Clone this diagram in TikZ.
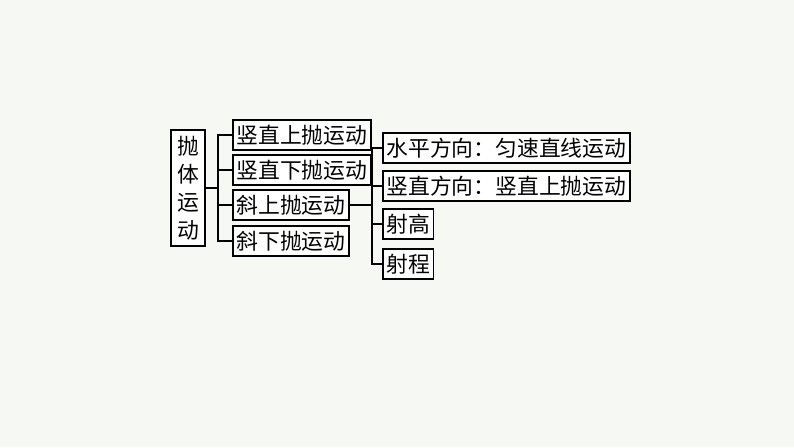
\documentclass[tikz,border=0pt]{standalone}
\usepackage{fontspec}
\setmainfont{Noto Sans CJK SC}
\definecolor{bgpage}{HTML}{F6F8F3}
\tikzset{
  kbox/.style={draw, line width=1.3pt, fill=white, inner xsep=2.5pt, inner ysep=0pt,
    minimum height=0.74cm, anchor=west, font=\fontsize{15.5}{18}\selectfont},
  kline/.style={line width=1.1pt}
}
\begin{document}
\begin{tikzpicture}[x=0.025cm,y=-0.025cm]
  \fill[bgpage] (0,0) rectangle (794,447);
  \useasboundingbox (0,0) rectangle (794,447);

  % root
  \node[draw, line width=1.3pt, fill=white, minimum width=0.85cm, minimum height=2.9cm,
    inner sep=1pt, align=center, font=\fontsize{15.5}{20}\selectfont] (root) at (188,188)
    {抛\\体\\运\\动};

  % first level
  \node[kbox] (a1) at (232,135) {竖直上抛运动};
  \node[kbox] (a2) at (232,170) {竖直下抛运动};
  \node[kbox] (a3) at (232,205) {斜上抛运动};
  \node[kbox] (a4) at (232,241) {斜下抛运动};

  % second level
  \node[kbox] (b1) at (382,148) {水平方向：匀速直线运动};
  \node[kbox] (b2) at (382,186) {竖直方向：竖直上抛运动};
  \node[kbox] (b3) at (382,224) {射高};
  \node[kbox] (b4) at (382,264) {射程};

  \coordinate (j1) at (218,188);
  \coordinate (j2) at (372,205);

  \draw[kline] (root.east) -- (j1);
  \draw[kline] (a1.west) -| (j1) |- (a4.west);
  \draw[kline] (j1) |- (a2.west);
  \draw[kline] (j1) |- (a3.west);

  \draw[kline] (a3.east) -- (j2);
  \draw[kline] (b1.west) -| (j2) |- (b4.west);
  \draw[kline] (j2) |- (b2.west);
  \draw[kline] (j2) |- (b3.west);
\end{tikzpicture}
\end{document}
